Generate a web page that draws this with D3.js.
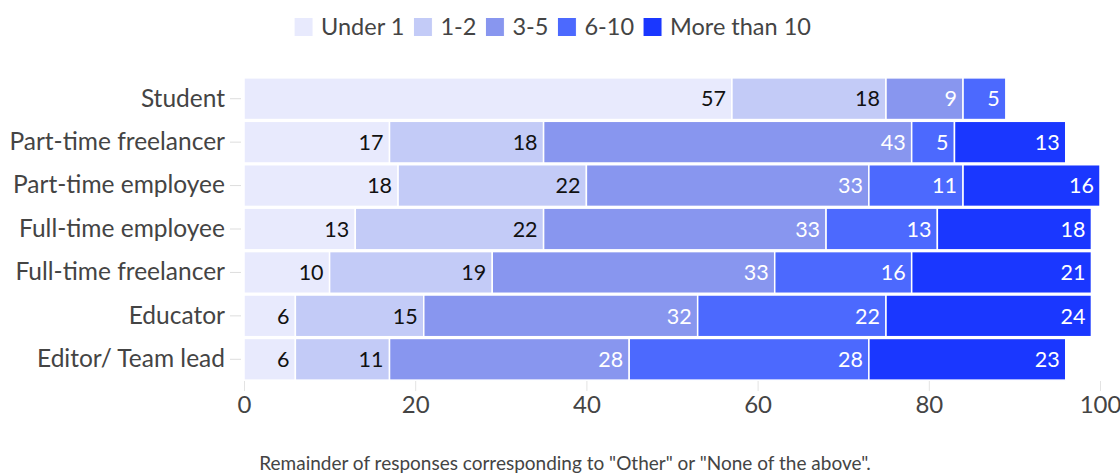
<!DOCTYPE html>
<html>
<head>
<meta charset="utf-8">
<script src="https://cdn.jsdelivr.net/npm/d3@7"></script>
<style>
  html, body { margin: 0; padding: 0; background: #fff; }
  svg { display: block; font-family: "Source Sans Pro", Lato, "Noto Sans", sans-serif; }
</style>
</head>
<body>
<svg id="chart" width="1120" height="473"></svg>
<script>
// Roles (top to bottom) and experience groups (stack order)
const roles = ["Student", "Part-time freelancer", "Part-time employee", "Full-time employee",
               "Full-time freelancer", "Educator", "Editor/ Team lead"];
const groups = ["Under 1", "1-2", "3-5", "6-10", "More than 10"];

// Share of respondents (%) per group, one array per experience group, in role order
const under1      = [57, 17, 18, 13, 10, 6, 6];
const oneToTwo    = [18, 18, 22, 22, 19, 15, 11];
const threeToFive = [9, 43, 33, 33, 33, 32, 28];
const sixToTen    = [5, 5, 11, 13, 16, 22, 28];
const moreThan10  = [0, 13, 16, 18, 21, 24, 23];

const xTicks = [0, 20, 40, 60, 80, 100];
const groupColors = ["#e8eafd", "#c3cbf7", "#8896ef", "#4c69fe", "#1a37ff"];
const labelColors = ["#111", "#111", "#fff", "#fff", "#fff"];
const note = 'Remainder of responses corresponding to "Other" or "None of the above".';

const FONT = "\"Source Sans Pro\", Lato, \"Noto Sans\", sans-serif";

const seriesValues = [under1, oneToTwo, threeToFive, sixToTen, moreThan10];
const table = roles.map((r, i) => {
  const row = { role: r };
  groups.forEach((g, j) => row[g] = seriesValues[j][i]);
  return row;
});

const svg = d3.select("#chart");
const plotLeft = 244, plotRight = 1100, plotTop = 77, plotH = 304;

const x = d3.scaleLinear().domain([0, 100]).range([plotLeft, plotRight]);
const y = d3.scaleBand().domain(roles).range([plotTop, plotTop + plotH]).paddingInner(0.04).paddingOuter(0.02);

const stacked = d3.stack().keys(groups)(table);

const g = svg.append("g");
stacked.forEach((layer, li) => {
  const segs = layer.filter(d => d[1] - d[0] > 0);
  const lg = g.append("g").attr("class", "layer");
  lg.selectAll("rect")
    .data(segs)
    .join("rect")
    .attr("x", d => x(d[0]))
    .attr("y", d => y(d.data.role))
    .attr("width", d => x(d[1]) - x(d[0]))
    .attr("height", y.bandwidth())
    .attr("fill", groupColors[li])
    .attr("stroke", "#fff")
    .attr("stroke-width", 1.5);
  lg.selectAll("text")
    .data(segs)
    .join("text")
    .attr("x", d => x(d[1]) - 6)
    .attr("y", d => y(d.data.role) + y.bandwidth() / 2)
    .attr("dy", "0.36em")
    .attr("text-anchor", "end")
    .attr("font-size", 21.5)
    .attr("fill", labelColors[li])
    .text(d => d[1] - d[0]);
});

// Y axis
const yAxis = svg.append("g")
  .attr("transform", `translate(${plotLeft - 3},0)`)
  .call(d3.axisLeft(y).tickSize(11).tickPadding(5))
  .attr("font-family", FONT);
yAxis.select(".domain").remove();
yAxis.selectAll(".tick line").attr("stroke", "#ddd");
yAxis.selectAll(".tick text").attr("font-size", 24.5).attr("fill", "#444");

// X axis
const xAxis = svg.append("g")
  .attr("transform", `translate(0,${plotTop + plotH})`)
  .call(d3.axisBottom(x).tickValues(xTicks).tickSize(10).tickPadding(5))
  .attr("font-family", FONT);
xAxis.select(".domain").remove();
xAxis.selectAll(".tick line").attr("stroke", "#e3e3e3");
xAxis.selectAll(".tick text").attr("font-size", 24).attr("fill", "#444");

// Legend, centered above the plot
const legend = svg.append("g").attr("font-size", 23.5);
let lx = 0;
groups.forEach((name, i) => {
  const it = legend.append("g");
  it.append("rect").attr("width", 19).attr("height", 19).attr("y", -9.5)
    .attr("fill", groupColors[i]).attr("stroke", "#fff");
  const t = it.append("text").attr("x", 27).attr("dy", "0.35em").attr("fill", "#444").text(name);
  const w = 27 + t.node().getComputedTextLength();
  it.attr("transform", `translate(${lx},0)`);
  lx += w + 9;
});
const legendW = lx - 9;
legend.attr("transform", `translate(${(298 + 807) / 2 - legendW / 2},27)`);

// Footnote
svg.append("text")
  .attr("x", 565).attr("y", 463).attr("dy", "0.35em")
  .attr("text-anchor", "middle").attr("font-size", 19).attr("fill", "#444")
  .text(note);
</script>
</body>
</html>
